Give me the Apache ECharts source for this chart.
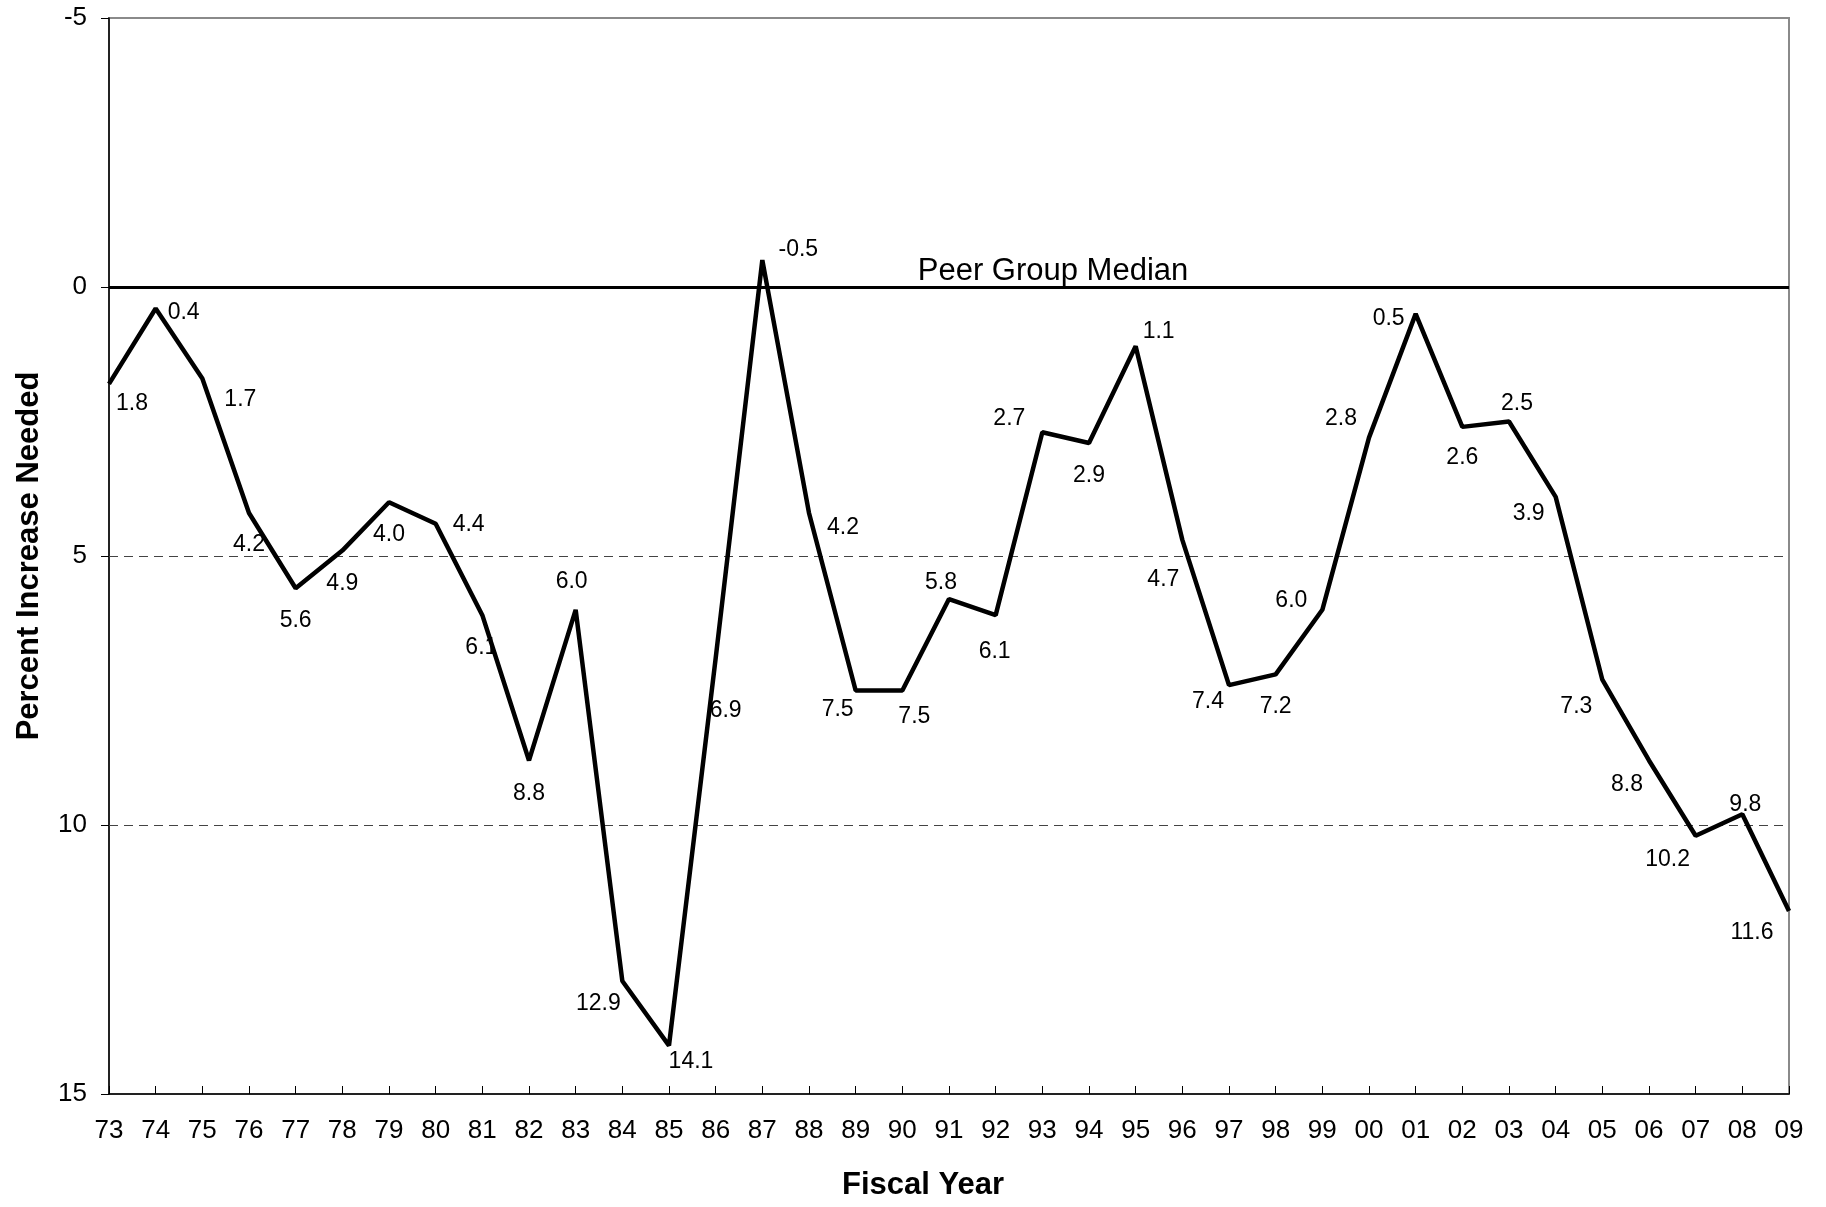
<!DOCTYPE html>
<html>
<head>
<meta charset="utf-8">
<script src="https://cdn.jsdelivr.net/npm/echarts@6/dist/echarts.min.js"></script>
<style>
  html, body { margin: 0; padding: 0; background: #fff; }
  #chart { width: 1826px; height: 1207px; }
</style>
</head>
<body>
<div id="chart"></div>
<script>
// ---- data ----
const fiscalYears = ['73','74','75','76','77','78','79','80','81','82','83','84','85','86','87','88','89','90','91','92','93','94','95','96','97','98','99','00','01','02','03','04','05','06','07','08','09'];
const percentIncreaseNeeded = [1.8, 0.4, 1.7, 4.2, 5.6, 4.9, 4.0, 4.4, 6.1, 8.8, 6.0, 12.9, 14.1, 6.9, -0.5, 4.2, 7.5, 7.5, 5.8, 6.1, 2.7, 2.9, 1.1, 4.7, 7.4, 7.2, 6.0, 2.8, 0.5, 2.6, 2.5, 3.9, 7.3, 8.8, 10.2, 9.8, 11.6];
const yTickValues = [-5, 0, 5, 10, 15];
const gridLineValues = [5, 10];
const peerGroupMedian = 0;
const peerGroupLabel = 'Peer Group Median';
const xAxisTitle = 'Fiscal Year';
const yAxisTitle = 'Percent Increase Needed';

// ---- label placement (style only, pixel offsets from each point) ----
const labelOffsets = [
  [23, 20], [28, 4], [38, 21], [0, 32], [0, 32], [0, 33], [0, 32], [33, 1], [-1, 32], [0, 33],
  [-4, -28], [-24, 23], [22, 16], [10, 52], [36, -10], [34, 15], [-18, 19], [12, 26], [-8, -16], [-1, 36],
  [-33, -14], [0, 33], [23, -15], [-19, 40], [-21, 17], [0, 32], [-31, -9], [-28, -19], [-27, 5], [0, 31],
  [8, -18], [-27, 17], [-26, 27], [-22, 24], [-28, 24], [3, -10], [-37, 22]
];

const FONT = "'Liberation Sans', Arial, sans-serif";
const chart = echarts.init(document.getElementById('chart'), null, { renderer: 'canvas' });

const seriesData = percentIncreaseNeeded.map((v, i) => ({
  value: v,
  label: { offset: labelOffsets[i] }
}));

const markLineData = [
  {
    yAxis: peerGroupMedian,
    lineStyle: { color: '#000', width: 3, type: 'solid' },
    label: {
      show: true,
      position: 'insideMiddleTop',
      formatter: peerGroupLabel,
      fontFamily: FONT,
      fontSize: 31,
      color: '#000',
      distance: 0,
      padding: [0, 0, 0, 208]
    }
  }
].concat(gridLineValues.map(v => ({
  yAxis: v,
  lineStyle: { color: '#444', width: 1, type: [9, 6] },
  label: { show: false }
})));

chart.setOption({
  animation: false,
  backgroundColor: '#ffffff',
  grid: {
    left: 109, right: 37, top: 18, bottom: 113,
    containLabel: false,
    outerBoundsMode: 'none',
    show: true,
    borderColor: '#8a8a8a',
    borderWidth: 2,
    backgroundColor: '#ffffff'
  },
  xAxis: {
    type: 'category',
    data: fiscalYears,
    boundaryGap: false,
    name: xAxisTitle,
    nameLocation: 'middle',
    nameGap: 76,
    nameTextStyle: { fontFamily: FONT, fontSize: 31, fontWeight: 'bold', color: '#000', padding: [0, 52, 0, 0] },
    axisLine: { show: true, onZero: false, lineStyle: { color: '#000', width: 1.5 } },
    axisTick: { show: true, inside: true, length: 8, alignWithLabel: true, interval: 0, lineStyle: { color: '#000', width: 1 } },
    axisLabel: { interval: 0, margin: 24, fontFamily: FONT, fontSize: 26, color: '#000' },
    splitLine: { show: false }
  },
  yAxis: {
    type: 'value',
    inverse: true,
    min: yTickValues[0],
    max: yTickValues[yTickValues.length - 1],
    interval: yTickValues[1] - yTickValues[0],
    name: yAxisTitle,
    nameLocation: 'middle',
    nameRotate: 90,
    nameGap: 64,
    nameTextStyle: { fontFamily: FONT, fontSize: 31, fontWeight: 'bold', color: '#000' },
    axisLine: { show: true, lineStyle: { color: '#000', width: 1.5 } },
    axisTick: { show: true, inside: false, length: 8, lineStyle: { color: '#000', width: 1 } },
    axisLabel: { margin: 22, fontFamily: FONT, fontSize: 26, color: '#000' },
    splitLine: { show: false }
  },
  series: [{
    type: 'line',
    data: seriesData,
    symbol: 'circle',
    symbolSize: 2,
    showSymbol: true,
    showAllSymbol: true,
    itemStyle: { color: 'rgba(0,0,0,0)' },
    lineStyle: { color: '#000', width: 4.5 },
    emphasis: { disabled: true },
    label: {
      show: true,
      position: 'inside',
      align: 'center',
      verticalAlign: 'middle',
      fontFamily: FONT,
      fontSize: 23,
      color: '#000',
      formatter: p => p.value.toFixed(1)
    },
    markLine: {
      silent: true,
      symbol: 'none',
      animation: false,
      z: 1,
      data: markLineData
    },
    z: 3
  }]
});
</script>
</body>
</html>
